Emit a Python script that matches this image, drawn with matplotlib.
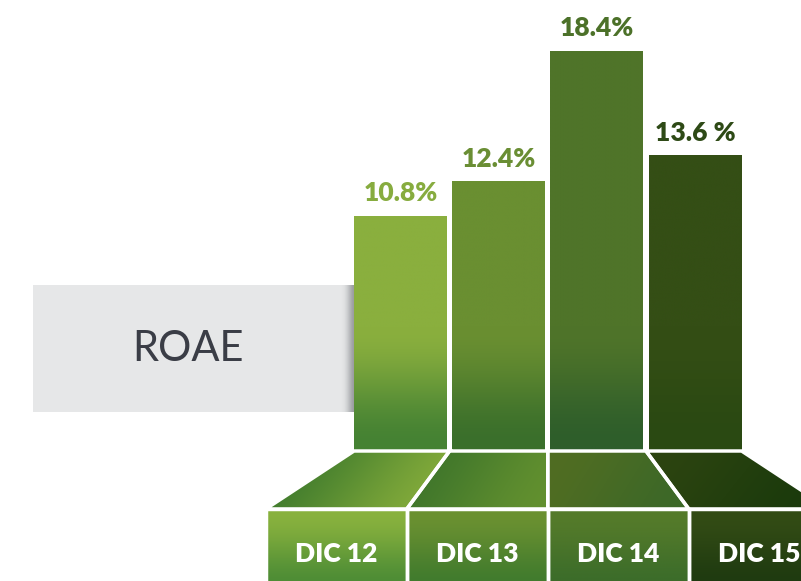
import numpy as np
import matplotlib
matplotlib.use("Agg")
import matplotlib.pyplot as plt
from matplotlib.patches import Rectangle, Polygon
from matplotlib.colors import to_rgb

# ---- data ----
categories = ["DIC 12", "DIC 13", "DIC 14", "DIC 15"]
values = [10.8, 12.4, 18.4, 13.6]
value_labels = ["10.8%", "12.4%", "18.4%", "13.6 %"]
metric_name = "ROAE"

# ---- styles ----
label_colors = ["#87ac3f", "#6a8e34", "#4c7129", "#2e4a16"]
bar_top = ["#8aaf3e", "#6a8f31", "#4f7429", "#344e15"]
bar_bottom = ["#458233", "#3a6f2b", "#2e5e2b", "#2a4912"]
trap_c1 = ["#3a772c", "#3d742b", "#506d22", "#2c4410"]
trap_c2 = ["#86ad3b", "#62902f", "#3c6828", "#1a3a0c"]
box_top = ["#89b23e", "#6b9131", "#557b2a", "#334c15"]
box_bottom = ["#4b8b35", "#3f7a2d", "#3b6c2a", "#1e3a10"]
FONT = ["Lato", "DejaVu Sans"]

W, H, DPI = 801, 581, 100
fig = plt.figure(figsize=(W / DPI, H / DPI), dpi=DPI)
ax = fig.add_axes([0, 0, 1, 1])
ax.axis("off")

n = len(values)
x = np.arange(n)
bar_w = 0.947
px_per_unit_x = 98.2
px_per_unit_y = 21.7
x_center_px = 400.5
base_px = 130  # from bottom
xlim = (-x_center_px / px_per_unit_x, (W - x_center_px) / px_per_unit_x)
ylim = (-base_px / px_per_unit_y, (H - base_px) / px_per_unit_y)

def mix(c1, c2, t):
    a = np.array(to_rgb(c1)); b = np.array(to_rgb(c2))
    t = np.asarray(t)[..., None]
    return a * (1 - t) + b * t

def smooth(t):
    t = np.clip(t, 0, 1)
    return t * t * (3 - 2 * t)

# ---- gray label box with shadow ----
bx0 = 33 / W
bx1 = 354 / W
by0 = (H - 412) / H
by1 = (H - 285) / H
ax.add_patch(Rectangle((bx0, by0), bx1 - bx0, by1 - by0, transform=ax.transAxes,
                       facecolor="#e6e7e8", edgecolor="none", zorder=1))
sh = np.linspace(0, 1, 64)
sh_img = np.zeros((1, 64, 4))
sh_img[..., :3] = to_rgb("#5a5d62")
sh_img[..., 3] = smooth(sh) ** 2 * 0.55
ax.imshow(sh_img, extent=[(338 - x_center_px) / px_per_unit_x, x[0] - bar_w / 2,
                          (by0 * H - base_px) / px_per_unit_y, (by1 * H - base_px) / px_per_unit_y],
          aspect="auto", zorder=1.5, interpolation="bilinear")
ax.text(188 / W, (H - 349) / H, metric_name, transform=ax.transAxes,
        ha="center", va="center", fontsize=30, color="#3a3d46", family=FONT,
        fontweight="normal", zorder=2)

# ---- bars with vertical gradient ----
bars = ax.bar(x, values, width=bar_w, color="none", edgecolor="none", zorder=3)
for i, p in enumerate(bars):
    x0, w, h = p.get_x(), p.get_width(), p.get_height()
    ys = np.linspace(0, h, 300)
    t = smooth((ys - 0.2) / 5.5)
    img = mix(bar_bottom[i], bar_top[i], t)[:, None, :]
    ax.imshow(img, extent=[x0, x0 + w, 0, h], origin="lower", aspect="auto",
              zorder=3, interpolation="bilinear")
    ax.annotate(value_labels[i], (x0 + w / 2, h), xytext=(0, 11), textcoords="offset points",
                ha="center", va="baseline", fontsize=19, fontweight="heavy",
                color=label_colors[i], family=FONT, zorder=5)

# ---- perspective bases and category boxes ----
trap_bottom = -58 / px_per_unit_y
box_w = 1.436
mid = (n - 1) / 2
edges = mid + (np.arange(n + 1) - n / 2) * box_w
ybot = ylim[0] - 0.5
for i in range(n):
    lt = x[i] - 0.5 if i > 0 else x[i] - bar_w / 2
    rt = x[i] + 0.5 if i < n - 1 else x[i] + bar_w / 2
    verts = [(lt, 0), (rt, 0), (edges[i + 1], trap_bottom), (edges[i], trap_bottom)]
    poly = Polygon(verts, closed=True, facecolor="none", edgecolor="white", lw=2.5, zorder=4.5)
    ax.add_patch(poly)
    xs0, xs1 = min(lt, edges[i]), max(rt, edges[i + 1])
    U, V = np.meshgrid(np.linspace(0, 1, 120), np.linspace(0, 1, 60))
    t = smooth(0.8 * U + 0.2 * V)
    img = mix(trap_c1[i], trap_c2[i], t)
    im = ax.imshow(img, extent=[xs0, xs1, trap_bottom, 0], origin="upper", aspect="auto",
                   zorder=4, interpolation="bilinear")
    clip = Polygon(verts, closed=True, transform=ax.transData, facecolor="none", edgecolor="none")
    ax.add_patch(clip)
    im.set_clip_path(clip)

    rect = Rectangle((edges[i], ybot), box_w, trap_bottom - ybot, facecolor="none",
                     edgecolor="white", lw=2.5, zorder=4.6)
    ax.add_patch(rect)
    ys = np.linspace(0, 1, 100)
    img = mix(box_top[i], box_bottom[i], smooth(ys))[:, None, :]
    ax.imshow(img, extent=[edges[i], edges[i + 1], ybot, trap_bottom], origin="upper",
              aspect="auto", zorder=4, interpolation="bilinear")
    ax.text((edges[i] + edges[i + 1]) / 2, (H - 554 - base_px) / px_per_unit_y, categories[i],
            ha="center", va="center", color="white", fontsize=19, fontweight="heavy",
            family=FONT, zorder=6)

ax.set_xlim(*xlim)
ax.set_ylim(*ylim)
fig.savefig("out.png", dpi=DPI, facecolor="white")
